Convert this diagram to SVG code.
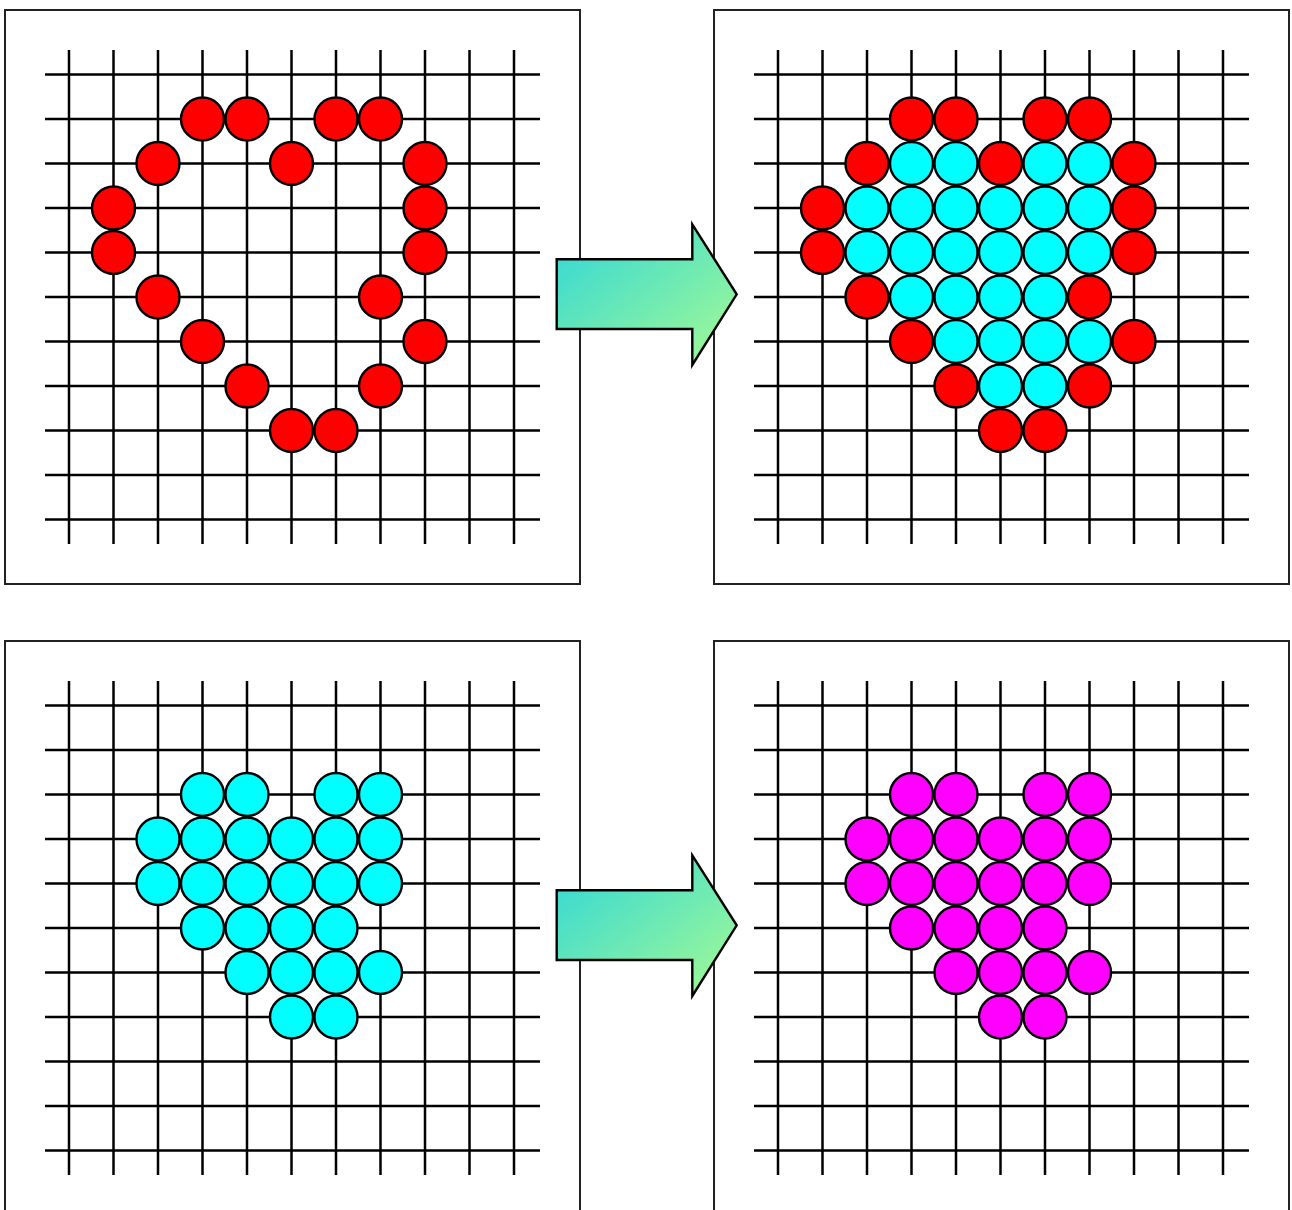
<svg xmlns="http://www.w3.org/2000/svg" xmlns:xlink="http://www.w3.org/1999/xlink" width="1292" height="1210" viewBox="0 0 1292 1210">
<style>
.frame{fill:#fff;stroke:#222;stroke-width:2}
.grid{fill:none;stroke:#000;stroke-width:2.5}
.r{fill:#ff0000;stroke:#000;stroke-width:2.4}
.c{fill:#00ffff;stroke:#000;stroke-width:2.4}
.m{fill:#ff00ff;stroke:#000;stroke-width:2.4}
.arrow{fill:url(#ag);stroke:#000;stroke-width:2.4;stroke-linejoin:miter}
</style>
<defs>
<linearGradient id="ag" x1="0" y1="0" x2="1" y2="1">
<stop offset="0" stop-color="#2fd6d9"/>
<stop offset="1" stop-color="#a6fb92"/>
</linearGradient>
<g id="grid">
<path class="grid" d="M45,74.5H540M45,119H540M45,163.5H540M45,208H540M45,252.5H540M45,297H540M45,341.5H540M45,386H540M45,430.5H540M45,475H540M45,519.5H540M69,50V544M113.5,50V544M158,50V544M202.5,50V544M247,50V544M291.5,50V544M336,50V544M380.5,50V544M425,50V544M469.5,50V544M514,50V544"/>
</g>
<path id="arr" class="arrow" d="M556.7,259.3H692.3V224.3L736.7,294.3L692.3,365V329H556.7Z"/>
</defs>
<rect width="1292" height="1210" fill="#fff"/>
<g id="panel-top-left">
<rect class="frame" x="5" y="10" width="575" height="574"/>
<use href="#grid"/>
<g>
<circle class="r" cx="202.5" cy="119" r="21.5"/><circle class="r" cx="247" cy="119" r="21.5"/><circle class="r" cx="336" cy="119" r="21.5"/><circle class="r" cx="380.5" cy="119" r="21.5"/>
<circle class="r" cx="158" cy="163.5" r="21.5"/><circle class="r" cx="291.5" cy="163.5" r="21.5"/><circle class="r" cx="425" cy="163.5" r="21.5"/>
<circle class="r" cx="113.5" cy="208" r="21.5"/><circle class="r" cx="425" cy="208" r="21.5"/>
<circle class="r" cx="113.5" cy="252.5" r="21.5"/><circle class="r" cx="425" cy="252.5" r="21.5"/>
<circle class="r" cx="158" cy="297" r="21.5"/><circle class="r" cx="380.5" cy="297" r="21.5"/>
<circle class="r" cx="202.5" cy="341.5" r="21.5"/><circle class="r" cx="425" cy="341.5" r="21.5"/>
<circle class="r" cx="247" cy="386" r="21.5"/><circle class="r" cx="380.5" cy="386" r="21.5"/>
<circle class="r" cx="291.5" cy="430.5" r="21.5"/><circle class="r" cx="336" cy="430.5" r="21.5"/>
</g>
</g>
<g id="panel-top-right" transform="translate(709,0)">
<rect class="frame" x="5" y="10" width="575" height="574"/>
<use href="#grid"/>
<g>
<circle class="r" cx="202.5" cy="119" r="21.5"/><circle class="r" cx="247" cy="119" r="21.5"/><circle class="r" cx="336" cy="119" r="21.5"/><circle class="r" cx="380.5" cy="119" r="21.5"/>
<circle class="r" cx="158" cy="163.5" r="21.5"/><circle class="r" cx="291.5" cy="163.5" r="21.5"/><circle class="r" cx="425" cy="163.5" r="21.5"/>
<circle class="r" cx="113.5" cy="208" r="21.5"/><circle class="r" cx="425" cy="208" r="21.5"/>
<circle class="r" cx="113.5" cy="252.5" r="21.5"/><circle class="r" cx="425" cy="252.5" r="21.5"/>
<circle class="r" cx="158" cy="297" r="21.5"/><circle class="r" cx="380.5" cy="297" r="21.5"/>
<circle class="r" cx="202.5" cy="341.5" r="21.5"/><circle class="r" cx="425" cy="341.5" r="21.5"/>
<circle class="r" cx="247" cy="386" r="21.5"/><circle class="r" cx="380.5" cy="386" r="21.5"/>
<circle class="r" cx="291.5" cy="430.5" r="21.5"/><circle class="r" cx="336" cy="430.5" r="21.5"/>
</g>
<g>
<circle class="c" cx="202.5" cy="163.5" r="21.5"/><circle class="c" cx="247" cy="163.5" r="21.5"/><circle class="c" cx="336" cy="163.5" r="21.5"/><circle class="c" cx="380.5" cy="163.5" r="21.5"/>
<circle class="c" cx="158" cy="208" r="21.5"/><circle class="c" cx="202.5" cy="208" r="21.5"/><circle class="c" cx="247" cy="208" r="21.5"/><circle class="c" cx="291.5" cy="208" r="21.5"/><circle class="c" cx="336" cy="208" r="21.5"/><circle class="c" cx="380.5" cy="208" r="21.5"/>
<circle class="c" cx="158" cy="252.5" r="21.5"/><circle class="c" cx="202.5" cy="252.5" r="21.5"/><circle class="c" cx="247" cy="252.5" r="21.5"/><circle class="c" cx="291.5" cy="252.5" r="21.5"/><circle class="c" cx="336" cy="252.5" r="21.5"/><circle class="c" cx="380.5" cy="252.5" r="21.5"/>
<circle class="c" cx="202.5" cy="297" r="21.5"/><circle class="c" cx="247" cy="297" r="21.5"/><circle class="c" cx="291.5" cy="297" r="21.5"/><circle class="c" cx="336" cy="297" r="21.5"/>
<circle class="c" cx="247" cy="341.5" r="21.5"/><circle class="c" cx="291.5" cy="341.5" r="21.5"/><circle class="c" cx="336" cy="341.5" r="21.5"/><circle class="c" cx="380.5" cy="341.5" r="21.5"/>
<circle class="c" cx="291.5" cy="386" r="21.5"/><circle class="c" cx="336" cy="386" r="21.5"/>
</g>
</g>
<g id="panel-bottom-left" transform="translate(0,631)">
<rect class="frame" x="5" y="10" width="575" height="600"/>
<use href="#grid"/>
<g>
<circle class="c" cx="202.5" cy="163.5" r="21.5"/><circle class="c" cx="247" cy="163.5" r="21.5"/><circle class="c" cx="336" cy="163.5" r="21.5"/><circle class="c" cx="380.5" cy="163.5" r="21.5"/>
<circle class="c" cx="158" cy="208" r="21.5"/><circle class="c" cx="202.5" cy="208" r="21.5"/><circle class="c" cx="247" cy="208" r="21.5"/><circle class="c" cx="291.5" cy="208" r="21.5"/><circle class="c" cx="336" cy="208" r="21.5"/><circle class="c" cx="380.5" cy="208" r="21.5"/>
<circle class="c" cx="158" cy="252.5" r="21.5"/><circle class="c" cx="202.5" cy="252.5" r="21.5"/><circle class="c" cx="247" cy="252.5" r="21.5"/><circle class="c" cx="291.5" cy="252.5" r="21.5"/><circle class="c" cx="336" cy="252.5" r="21.5"/><circle class="c" cx="380.5" cy="252.5" r="21.5"/>
<circle class="c" cx="202.5" cy="297" r="21.5"/><circle class="c" cx="247" cy="297" r="21.5"/><circle class="c" cx="291.5" cy="297" r="21.5"/><circle class="c" cx="336" cy="297" r="21.5"/>
<circle class="c" cx="247" cy="341.5" r="21.5"/><circle class="c" cx="291.5" cy="341.5" r="21.5"/><circle class="c" cx="336" cy="341.5" r="21.5"/><circle class="c" cx="380.5" cy="341.5" r="21.5"/>
<circle class="c" cx="291.5" cy="386" r="21.5"/><circle class="c" cx="336" cy="386" r="21.5"/>
</g>
</g>
<g id="panel-bottom-right" transform="translate(709,631)">
<rect class="frame" x="5" y="10" width="575" height="600"/>
<use href="#grid"/>
<g>
<circle class="m" cx="202.5" cy="163.5" r="21.5"/><circle class="m" cx="247" cy="163.5" r="21.5"/><circle class="m" cx="336" cy="163.5" r="21.5"/><circle class="m" cx="380.5" cy="163.5" r="21.5"/>
<circle class="m" cx="158" cy="208" r="21.5"/><circle class="m" cx="202.5" cy="208" r="21.5"/><circle class="m" cx="247" cy="208" r="21.5"/><circle class="m" cx="291.5" cy="208" r="21.5"/><circle class="m" cx="336" cy="208" r="21.5"/><circle class="m" cx="380.5" cy="208" r="21.5"/>
<circle class="m" cx="158" cy="252.5" r="21.5"/><circle class="m" cx="202.5" cy="252.5" r="21.5"/><circle class="m" cx="247" cy="252.5" r="21.5"/><circle class="m" cx="291.5" cy="252.5" r="21.5"/><circle class="m" cx="336" cy="252.5" r="21.5"/><circle class="m" cx="380.5" cy="252.5" r="21.5"/>
<circle class="m" cx="202.5" cy="297" r="21.5"/><circle class="m" cx="247" cy="297" r="21.5"/><circle class="m" cx="291.5" cy="297" r="21.5"/><circle class="m" cx="336" cy="297" r="21.5"/>
<circle class="m" cx="247" cy="341.5" r="21.5"/><circle class="m" cx="291.5" cy="341.5" r="21.5"/><circle class="m" cx="336" cy="341.5" r="21.5"/><circle class="m" cx="380.5" cy="341.5" r="21.5"/>
<circle class="m" cx="291.5" cy="386" r="21.5"/><circle class="m" cx="336" cy="386" r="21.5"/>
</g>
</g>
<g id="connectors">
<use href="#arr"/>
<use href="#arr" transform="translate(0,631)"/>
</g>
</svg>
